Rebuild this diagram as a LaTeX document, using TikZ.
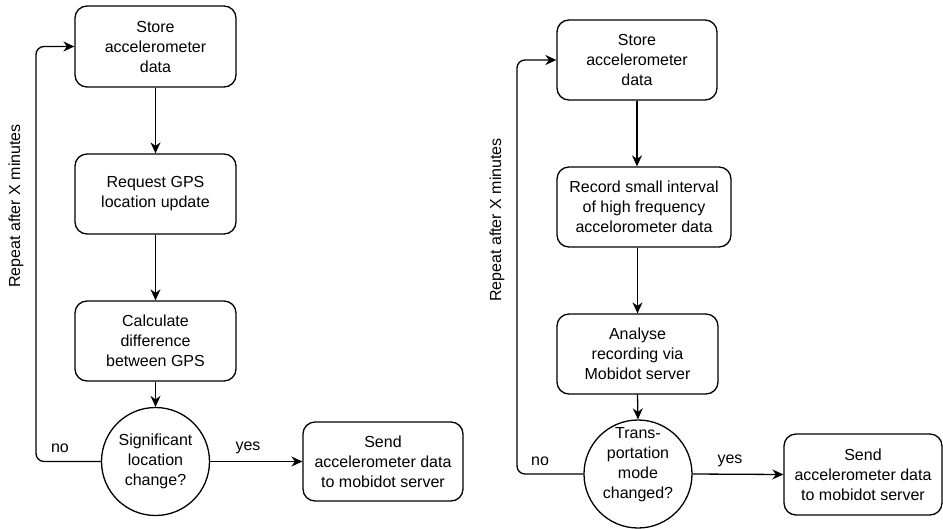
\documentclass[tikz,border=0pt]{standalone}
\usepackage{fontspec}
\setmainfont{Liberation Sans}
\usetikzlibrary{arrows.meta,shapes.geometric}
\tikzset{
  every node/.style={font=\fontsize{16pt}{20pt}\selectfont, inner sep=0pt},
  stepbox/.style={draw, rounded corners=12pt, line width=1.3pt, align=center},
  decision/.style={draw, circle, line width=1.3pt, minimum size=108pt, align=center},
  ctext/.style={align=center},
  conn/.style={line width=1.3pt, -{Stealth[length=11pt,width=10pt]}},
  loopline/.style={line width=1.3pt, rounded corners=8pt, -{Stealth[length=11pt,width=10pt]}},
  lbl/.style={}
}
\begin{document}
\begin{tikzpicture}[x=1pt,y=-1pt]
\useasboundingbox (0,0) rectangle (943,528);
% ---------- left flow ----------
\node[stepbox, minimum width=161pt, minimum height=81pt] (a1) at (155.5,46.5) {Store\\accelerometer\\data};
\node[stepbox, minimum width=161pt, minimum height=80pt] (a2) at (155.5,194) {Request GPS\\location update};
\node[stepbox, minimum width=161pt, minimum height=80pt] (a3) at (155.5,341) {Calculate\\difference\\between GPS};
\node[decision] (ad) at (155.5,461.5) {};
\node[ctext] (adt) at (155.5,461.5) {Significant\\location\\change?};
\node[stepbox, minimum width=160pt, minimum height=79pt] (as) at (383,461.5) {Send\\accelerometer data\\to mobidot server};
\coordinate (al) at (36,461.5);
\draw[conn] (a1.south) -- (a2.north);
\draw[conn] (a2.south) -- (a3.north);
\draw[conn] (a3.south) -- (ad.north);
\draw[conn] (ad.east) -- (as.west);
\draw[loopline] (ad.west) -- (al) |- (a1.west);
\node[lbl] (ano) at (60,448) {no};
\node[lbl] (ayes) at (248,448) {yes};
\node[lbl, rotate=90] (arep) at (16,206) {Repeat after X minutes};
% ---------- right flow ----------
\node[stepbox, minimum width=160pt, minimum height=80pt] (b1) at (637,60) {Store\\accelerometer\\data};
\node[stepbox, minimum width=174pt, minimum height=80pt] (b2) at (644,207) {Record small interval\\of high frequency\\accelorometer data};
\node[stepbox, minimum width=161pt, minimum height=80pt] (b3) at (637.5,354) {Analyse\\recording via\\Mobidot server};
\node[decision] (bd) at (638,474) {};
\node[ctext] (bdt) at (638,465) {Trans-\\portation\\mode\\changed?};
\node[stepbox, minimum width=158pt, minimum height=81pt] (bs) at (863,474.5) {Send\\accelerometer data\\to mobidot server};
\coordinate (bl) at (517,474);
\draw[conn] (b1.south) -- (b1.south |- b2.north);
\draw[conn] (b3.north |- b2.south) -- (b3.north);
\draw[conn] (b3.south) -- (bd.north);
\draw[conn] (bd.east) -- (bs.west);
\draw[loopline] (bd.west) -- (bl) |- (b1.west);
\node[lbl] (bno) at (540,461) {no};
\node[lbl] (byes) at (730,461) {yes};
\node[lbl, rotate=90] (brep) at (497,220) {Repeat after X minutes};
\end{tikzpicture}
\end{document}
